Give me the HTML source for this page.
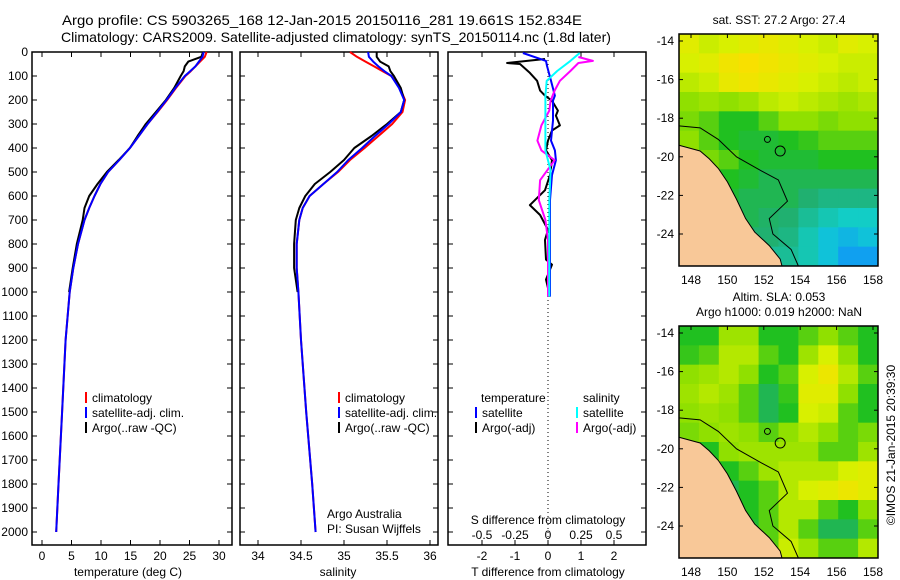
<!DOCTYPE html>
<html><head><meta charset="utf-8"><style>
body{margin:0;background:#fff;}
svg{display:block;font-family:"Liberation Sans",sans-serif;}
text{fill:#000;}
</style></head><body>
<svg id="fig" width="900" height="580" viewBox="0 0 900 580">
<text x="62" y="25" font-size="14" textLength="520" lengthAdjust="spacingAndGlyphs">Argo profile: CS 5903265_168 12-Jan-2015 20150116_281 19.661S 152.834E</text>
<text x="61" y="42" font-size="14" textLength="550" lengthAdjust="spacingAndGlyphs">Climatology: CARS2009. Satellite-adjusted climatology: synTS_20150114.nc (1.8d later)</text>
<g id="g"></g>
<text x="92" y="402" font-size="12">climatology</text>
<text x="92" y="417" font-size="12">satellite-adj. clim.</text>
<text x="92" y="432" font-size="12">Argo(..raw -QC)</text>
<rect x="85" y="392" width="2" height="11" fill="#f00"/>
<rect x="85" y="407" width="2" height="11" fill="#00f"/>
<rect x="85" y="422" width="2" height="11" fill="#000"/>
<text x="345" y="402" font-size="12">climatology</text>
<text x="345" y="417" font-size="12">satellite-adj. clim.</text>
<text x="345" y="432" font-size="12">Argo(..raw -QC)</text>
<rect x="338" y="392" width="2" height="11" fill="#f00"/>
<rect x="338" y="407" width="2" height="11" fill="#00f"/>
<rect x="338" y="422" width="2" height="11" fill="#000"/>
<text x="327" y="518" font-size="12">Argo Australia</text>
<text x="327" y="533" font-size="12">PI: Susan Wijffels</text>
<text x="481" y="402" font-size="12">temperature</text>
<text x="482" y="417" font-size="12">satellite</text>
<text x="482" y="432" font-size="12">Argo(-adj)</text>
<text x="583" y="402" font-size="12">salinity</text>
<text x="583" y="417" font-size="12">satellite</text>
<text x="583" y="432" font-size="12">Argo(-adj)</text>
<rect x="475" y="407" width="2" height="11" fill="#00f"/>
<rect x="475" y="422" width="2" height="11" fill="#000"/>
<rect x="576" y="407" width="2" height="11" fill="#0ff"/>
<rect x="576" y="422" width="2" height="11" fill="#f0f"/>
<text x="548" y="524" font-size="12" text-anchor="middle">S difference from climatology</text>
<text x="128" y="576" font-size="12" text-anchor="middle">temperature (deg C)</text>
<text x="338" y="576" font-size="12" text-anchor="middle">salinity</text>
<text x="548" y="576" font-size="12" text-anchor="middle">T difference from climatology</text>
<text x="779" y="24" font-size="12" text-anchor="middle">sat. SST: 27.2 Argo: 27.4</text>
<text x="779" y="301" font-size="12" text-anchor="middle">Altim. SLA: 0.053</text>
<text x="779" y="316" font-size="12" text-anchor="middle">Argo h1000: 0.019 h2000: NaN</text>
<text transform="translate(895,445) rotate(-90)" font-size="12" text-anchor="middle">©IMOS 21-Jan-2015 20:39:30</text>
</svg>
<script>
// ---- profile data ----
const depthClim=[0,20,40,60,80,100,150,200,250,300,350,400,450,500,550,600,650,700,800,900,1000,1200,1500,1800,2000];
const tClim=[27.9,27.6,26.8,26.0,25.2,24.3,22.7,21.2,19.6,17.9,16.4,14.9,13.1,11.2,9.9,8.9,8.0,7.2,6.1,5.3,4.7,4.0,3.4,2.8,2.4];
const tSat=[27.4,27.2,26.6,26.0,25.1,24.2,22.6,21.1,19.5,17.9,16.4,14.9,13.1,11.2,9.9,8.9,8.0,7.2,6.1,5.3,4.7,4.0,3.4,2.8,2.4];
const sClim=[35.07,35.15,35.25,35.35,35.45,35.55,35.65,35.71,35.68,35.56,35.40,35.24,35.07,34.93,34.76,34.60,34.52,34.48,34.45,34.45,34.47,34.50,34.56,34.63,34.67];
const sSat=[35.28,35.29,35.34,35.40,35.47,35.55,35.64,35.70,35.66,35.52,35.36,35.21,35.05,34.92,34.76,34.60,34.52,34.48,34.45,34.45,34.47,34.50,34.56,34.63,34.67];
const depthArgo=[0,20,40,60,80,100,150,200,250,300,350,400,450,500,550,600,650,700,800,900,1000];
const tArgo=[27.3,27.0,24.8,24.2,24.0,23.5,22.4,21.0,19.3,17.6,16.2,14.9,13.0,11.0,9.4,8.0,7.2,6.9,5.9,5.2,4.6];
const sArgo=[35.38,35.38,35.42,35.52,35.54,35.58,35.66,35.70,35.66,35.50,35.32,35.12,35.00,34.84,34.66,34.55,34.48,34.44,34.42,34.42,34.46];
// ---- difference data ----
const dTsatDepth=[4,37,58,120,182,203,286,369,410,451,513,617,824,1019];
const dTsat=[-0.76,-0.06,-0.03,0.09,0.21,0.15,0.15,0.09,0.21,0.24,0.12,0.06,0.06,0.06];
const dTargoDepth=[29,46,50,87,120,161,182,203,244,265,306,327,369,410,451,513,576,638,679,741,783,865,886,948,1019];
const dTargo=[-0.09,-1.24,-0.85,-0.55,-0.33,-0.24,-0.09,0.12,0.30,0.24,0.36,0.12,0,-0.06,0.12,0.06,-0.09,-0.55,-0.24,0,-0.09,-0.06,0.12,-0.06,0.06];
const dSsatDepth=[4,37,79,120,182,244,327,410,493,617,1019];
const dSsat=[0.24,0.17,0.07,-0.01,-0.02,-0.02,-0.02,-0.02,0.02,0.01,0.01];
const dSargoDepth=[21,37,46,79,120,161,203,244,306,369,410,451,534,617,700,783,1019];
const dSargo=[0.23,0.34,0.23,0.17,0.09,0.05,0.02,0.01,-0.05,-0.08,-0.05,0.05,-0.06,-0.07,-0.02,0,0];
// ---- tick labels ----
const depthTicks=[0,100,200,300,400,500,600,700,800,900,1000,1100,1200,1300,1400,1500,1600,1700,1800,1900,2000];
const tTicks=[0,5,10,15,20,25,30];
const sTicks=[34,34.5,35,35.5,36];
const dTTicks=[-2,-1,0,1,2];
const dSTicks=[-0.5,-0.25,0,0.25,0.5];
// ---- map data (normalised colour level) ----
const sstGrid=[
[.72,.68,.7,.72,.74,.72,.7,.68,.72,.7],
[.7,.72,.76,.78,.76,.74,.72,.7,.68,.68],
[.66,.68,.74,.76,.74,.72,.7,.68,.66,.68],
[.6,.62,.6,.62,.66,.68,.66,.64,.62,.64],
[.58,.55,.5,.5,.55,.6,.6,.58,.6,.6],
[.6,.55,.5,.48,.48,.5,.52,.55,.55,.55],
[.6,.58,.55,.5,.48,.48,.48,.5,.5,.5],
[.55,.55,.5,.48,.45,.45,.45,.45,.45,.45],
[.5,.5,.48,.45,.45,.45,.42,.4,.4,.4],
[.5,.48,.45,.45,.43,.42,.38,.35,.33,.33],
[.5,.48,.45,.42,.42,.4,.35,.3,.28,.3],
[.5,.48,.45,.4,.38,.38,.35,.3,.25,.25]];
const slaGrid=[
[.5,.5,.62,.62,.5,.5,.55,.6,.55,.5],
[.52,.55,.65,.65,.55,.5,.62,.7,.6,.5],
[.6,.62,.65,.6,.5,.55,.7,.75,.65,.55],
[.62,.65,.62,.55,.45,.52,.72,.72,.6,.5],
[.6,.62,.6,.55,.45,.5,.7,.68,.55,.5],
[.58,.6,.62,.6,.55,.6,.65,.6,.55,.58],
[.45,.5,.6,.62,.62,.62,.62,.55,.55,.62],
[.42,.45,.5,.55,.62,.65,.65,.65,.7,.72],
[.42,.42,.45,.5,.55,.65,.7,.72,.75,.72],
[.42,.42,.42,.5,.55,.65,.65,.55,.5,.6],
[.42,.42,.45,.48,.55,.65,.55,.45,.45,.55],
[.42,.42,.42,.45,.55,.68,.62,.55,.55,.65]];
const latTicks=[14,16,18,20,22,24];
const lonTicks=[148,150,152,154,156,158];

const NS='http://www.w3.org/2000/svg';
const G=document.getElementById('g');
function mk(tag,attrs,parent){const e=document.createElementNS(NS,tag);for(const k in attrs)e.setAttribute(k,attrs[k]);(parent||G).appendChild(e);return e;}
const yD=d=>52+d*0.24;
const PANEL_TOP=52,PANEL_BOT=545;
const xT=v=>42+v*5.9;
const xS=v=>258+(v-34)*86;
const xDT=v=>548+v*33;
const xDS=v=>548+v*132;

function panel(x0,x1,name){
  const r=mk('rect',{x:x0,y:PANEL_TOP,width:x1-x0,height:PANEL_BOT-PANEL_TOP,fill:'none',stroke:'#000','stroke-width':1.5});
  
  
  depthTicks.forEach(d=>{
    mk('line',{x1:x0,x2:x0+5,y1:yD(d),y2:yD(d),stroke:'#000'});
    mk('line',{x1:x1-5,x2:x1,y1:yD(d),y2:yD(d),stroke:'#000'});
  });
}
function xticks(ticks,fx,labelY,name){
  ticks.forEach(v=>{
    const x=fx(v);
    mk('line',{x1:x,x2:x,y1:PANEL_BOT-5,y2:PANEL_BOT,stroke:'#000'});
    mk('line',{x1:x,x2:x,y1:PANEL_TOP,y2:PANEL_TOP+5,stroke:'#000'});
    const t=mk('text',{x:x,y:labelY,'font-size':12,'text-anchor':'middle'});
    
    
    t.textContent=String(v);
  });
}
function line(depths,vals,fx,color,name){
  const p=mk('polyline',{points:depths.map((d,i)=>fx(vals[i]).toFixed(1)+','+yD(d).toFixed(1)).join(' '),fill:'none',stroke:color,'stroke-width':2,'stroke-linejoin':'round'});
  
  
}
panel(32,232,'temperature-panel');
panel(240,438,'salinity-panel');
panel(448,646,'difference-panel');
depthTicks.forEach(d=>{
  const t=mk('text',{x:28,y:yD(d)+4,'font-size':12,'text-anchor':'end'});
  
  
  t.textContent=d;
});
xticks(tTicks,xT,560,'temperature-tick-label');
xticks(sTicks,xS,560,'salinity-tick-label');
xticks(dTTicks,xDT,560,'t-diff-tick-label');
dSTicks.forEach(v=>{
  const t=mk('text',{x:xDS(v),y:539,'font-size':12,'text-anchor':'middle'});
  
  
  t.textContent=String(v);
});
mk('line',{x1:548,x2:548,y1:PANEL_TOP,y2:PANEL_BOT,stroke:'#000','stroke-dasharray':'1,3'});

line(depthClim,tClim,xT,'#f00','temp-climatology-line');
line(depthArgo,tArgo,xT,'#000','temp-argo-line');
line(depthClim,tSat,xT,'#00f','temp-satellite-line');
line(depthClim,sClim,xS,'#f00','sal-climatology-line');
line(depthArgo,sArgo,xS,'#000','sal-argo-line');
line(depthClim,sSat,xS,'#00f','sal-satellite-line');
line(dTargoDepth,dTargo,xDT,'#000','t-diff-argo-line');
line(dTsatDepth,dTsat,xDT,'#00f','t-diff-satellite-line');
line(dSargoDepth,dSargo,xDS,'#f0f','s-diff-argo-line');
line(dSsatDepth,dSsat,xDS,'#0ff','s-diff-satellite-line');

// ---- maps ----
const stops=[[0.25,[16,160,240]],[0.32,[16,208,208]],[0.42,[32,176,112]],[0.5,[32,192,32]],[0.6,[144,224,0]],[0.7,[216,240,0]],[0.78,[248,224,0]],[0.85,[248,176,0]]];
function cmap(v){
  if(v<=stops[0][0])return 'rgb('+stops[0][1]+')';
  for(let i=1;i<stops.length;i++){if(v<=stops[i][0]){const a=stops[i-1],b=stops[i],f=(v-a[0])/(b[0]-a[0]);return 'rgb('+a[1].map((c,j)=>Math.round(c+(b[1][j]-c)*f)).join(',')+')';}}
  return 'rgb('+stops[stops.length-1][1]+')';
}
function map(y0,grid,name){
  const x0=679,w=199,h=232;
  const g=mk('g',{});
  
  
  const rows=grid.length,cols=grid[0].length,cw=w/cols,ch=h/rows;
  grid.forEach((row,r)=>row.forEach((v,c)=>{
    const cell=mk('rect',{x:x0+c*cw,y:y0+r*ch,width:cw+0.5,height:ch+0.5,fill:cmap(v)},g);
    
    
  }));
  const lat=l=>y0+7+(l-14)*19.3, lon=l=>691+(l-148)*18.2;
  const land=mk('polygon',{points:[[x0,lat(19.4)],[lon(148.5),lat(19.7)],[lon(149),lat(20.1)],[lon(149.5),lat(20.6)],[lon(150),lat(21.3)],[lon(150.5),lat(22.2)],[lon(151),lat(23.2)],[lon(151.5),lat(23.9)],[lon(152.3),lat(24.6)],[lon(152.9),lat(25.3)],[lon(153),y0+h],[x0,y0+h]].map(p=>p.join(',')).join(' '),fill:'#f8c898',stroke:'#000','stroke-width':1},g);
  
  
  mk('polyline',{points:[[x0,lat(18.4)],[lon(148.5),lat(18.5)],[lon(149.5),lat(19.1)],[lon(150.5),lat(20)],[lon(152),lat(20.8)],[lon(152.8),lat(21.2)],[lon(153.3),lat(22.3)],[lon(152.3),lat(23.2)],[lon(152.5),lat(24)],[lon(153.5),lat(24.8)],[lon(153.9),y0+h]].map(p=>p.join(',')).join(' '),fill:'none',stroke:'#000','stroke-width':1},g);
  mk('circle',{cx:lon(152.9),cy:lat(19.7),r:5,fill:'none',stroke:'#000'},g);
  mk('circle',{cx:lon(152.2),cy:lat(19.1),r:3,fill:'none',stroke:'#000'},g);
  mk('rect',{x:x0,y:y0,width:w,height:h,fill:'none',stroke:'#000','stroke-width':1.5},g);
  latTicks.forEach(l=>{
    const t=mk('text',{x:674,y:lat(l)+4,'font-size':12,'text-anchor':'end'});
    
    
    t.textContent='-'+l;
    mk('line',{x1:x0,x2:x0+4,y1:lat(l),y2:lat(l),stroke:'#000'});
    mk('line',{x1:x0+w-4,x2:x0+w,y1:lat(l),y2:lat(l),stroke:'#000'});
  });
  lonTicks.forEach(l=>{
    mk('line',{x1:lon(l),x2:lon(l),y1:y0,y2:y0+4,stroke:'#000'});
    const t=mk('text',{x:lon(l),y:y0+h+18,'font-size':12,'text-anchor':'middle'});
    
    
    t.textContent=l;
  });
}
map(34,sstGrid,'sst-map');
map(326,slaGrid,'sla-map');
</script>
</body></html>
